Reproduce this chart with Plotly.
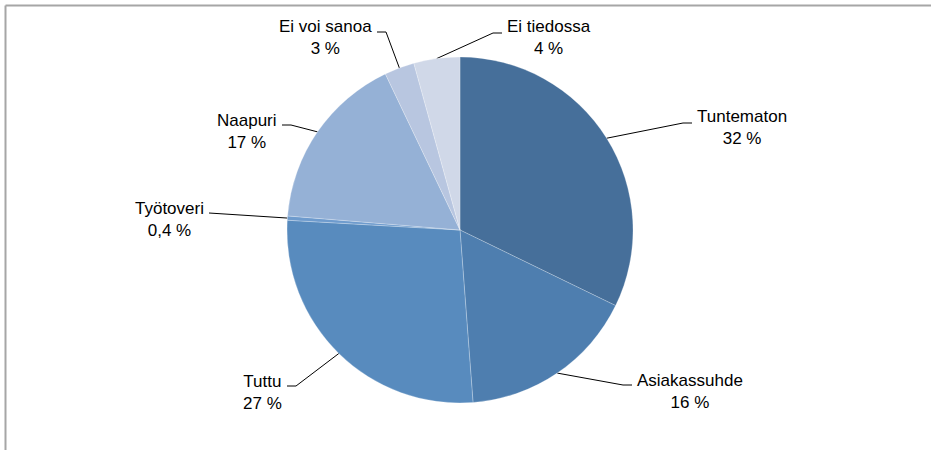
import math
import plotly.graph_objects as go

# ---- data ----
categories = ["Tuntematon", "Asiakassuhde", "Tuttu", "Työtoveri", "Naapuri", "Ei voi sanoa", "Ei tiedossa"]
values = [32.2, 16.6, 27.1, 0.4, 16.6, 2.8, 4.3]
value_labels = ["32 %", "16 %", "27 %", "0,4 %", "17 %", "3 %", "4 %"]

# ---- style / layout ----
colors = ["#466F9A", "#4E7EAF", "#588BBE", "#6E9BCD", "#95B1D6", "#B8C6E0", "#D0D8E8"]
W, H = 931, 450
CX, CY, R = 460, 230, 173
# leader-line kink points (pixel) and side of label
kinks = [(683, 123), (623, 385), (296, 386), (218, 213), (291, 125), (386, 32), (493, 33)]
sides = ["r", "r", "l", "l", "l", "l", "r"]
text_dy = [4, 6, 6, 6, 6, 5, 4]
TAIL = 9
FONT = "Liberation Sans, Arial, sans-serif"

fig = go.Figure()
fig.add_trace(go.Pie(
    labels=categories, values=values, sort=False, direction="clockwise", rotation=0,
    marker=dict(colors=colors, line=dict(color="rgba(255,255,255,0.3)", width=0.8)),
    textinfo="none", hoverinfo="label+percent", showlegend=False,
    domain=dict(x=[(CX - R) / W, (CX + R) / W], y=[1 - (CY + R) / H, 1 - (CY - R) / H]),
))

total = sum(values)
cum = 0.0
shapes = []
annotations = []
for i, v in enumerate(values):
    mid = (cum + v / 2) / total * 2 * math.pi
    cum += v
    ex = CX + R * math.sin(mid)
    ey = CY - R * math.cos(mid)
    kx, ky = kinks[i]
    tx = kx + TAIL if sides[i] == "r" else kx - TAIL
    fig.add_trace(go.Scatter(x=[ex, kx, tx], y=[ey, ky, ky], mode="lines",
                             line=dict(color="black", width=1), hoverinfo="skip",
                             showlegend=False, xaxis="x", yaxis="y"))
    annotations.append(dict(
        x=tx + (3 if sides[i] == "r" else -3), y=ky + text_dy[i], xref="x", yref="y",
        text=f"{categories[i]}<br>{value_labels[i]}", showarrow=False, align="center",
        xanchor="left" if sides[i] == "r" else "right", yanchor="middle",
        font=dict(family=FONT, size=17, color="#000000"),
    ))

# chart frame (top and left edges visible)
shapes.append(dict(type="line", xref="x", yref="y", x0=5.5, y0=5.5, x1=W + 5, y1=5.5,
                   line=dict(color="#A6A6A6", width=2)))
shapes.append(dict(type="line", xref="x", yref="y", x0=5.5, y0=5.5, x1=5.5, y1=H + 5,
                   line=dict(color="#A6A6A6", width=2)))

fig.update_layout(
    width=W, height=H, margin=dict(l=0, r=0, t=0, b=0),
    paper_bgcolor="white", plot_bgcolor="rgba(0,0,0,0)",
    xaxis=dict(range=[0, W], visible=False, fixedrange=True),
    yaxis=dict(range=[H, 0], visible=False, fixedrange=True),
    shapes=shapes, annotations=annotations,
    font=dict(family=FONT),
)

fig.write_html("out.html", config={"displayModeBar": False},
               post_script="document.body.style.margin='0px';document.body.style.overflow='hidden';")
